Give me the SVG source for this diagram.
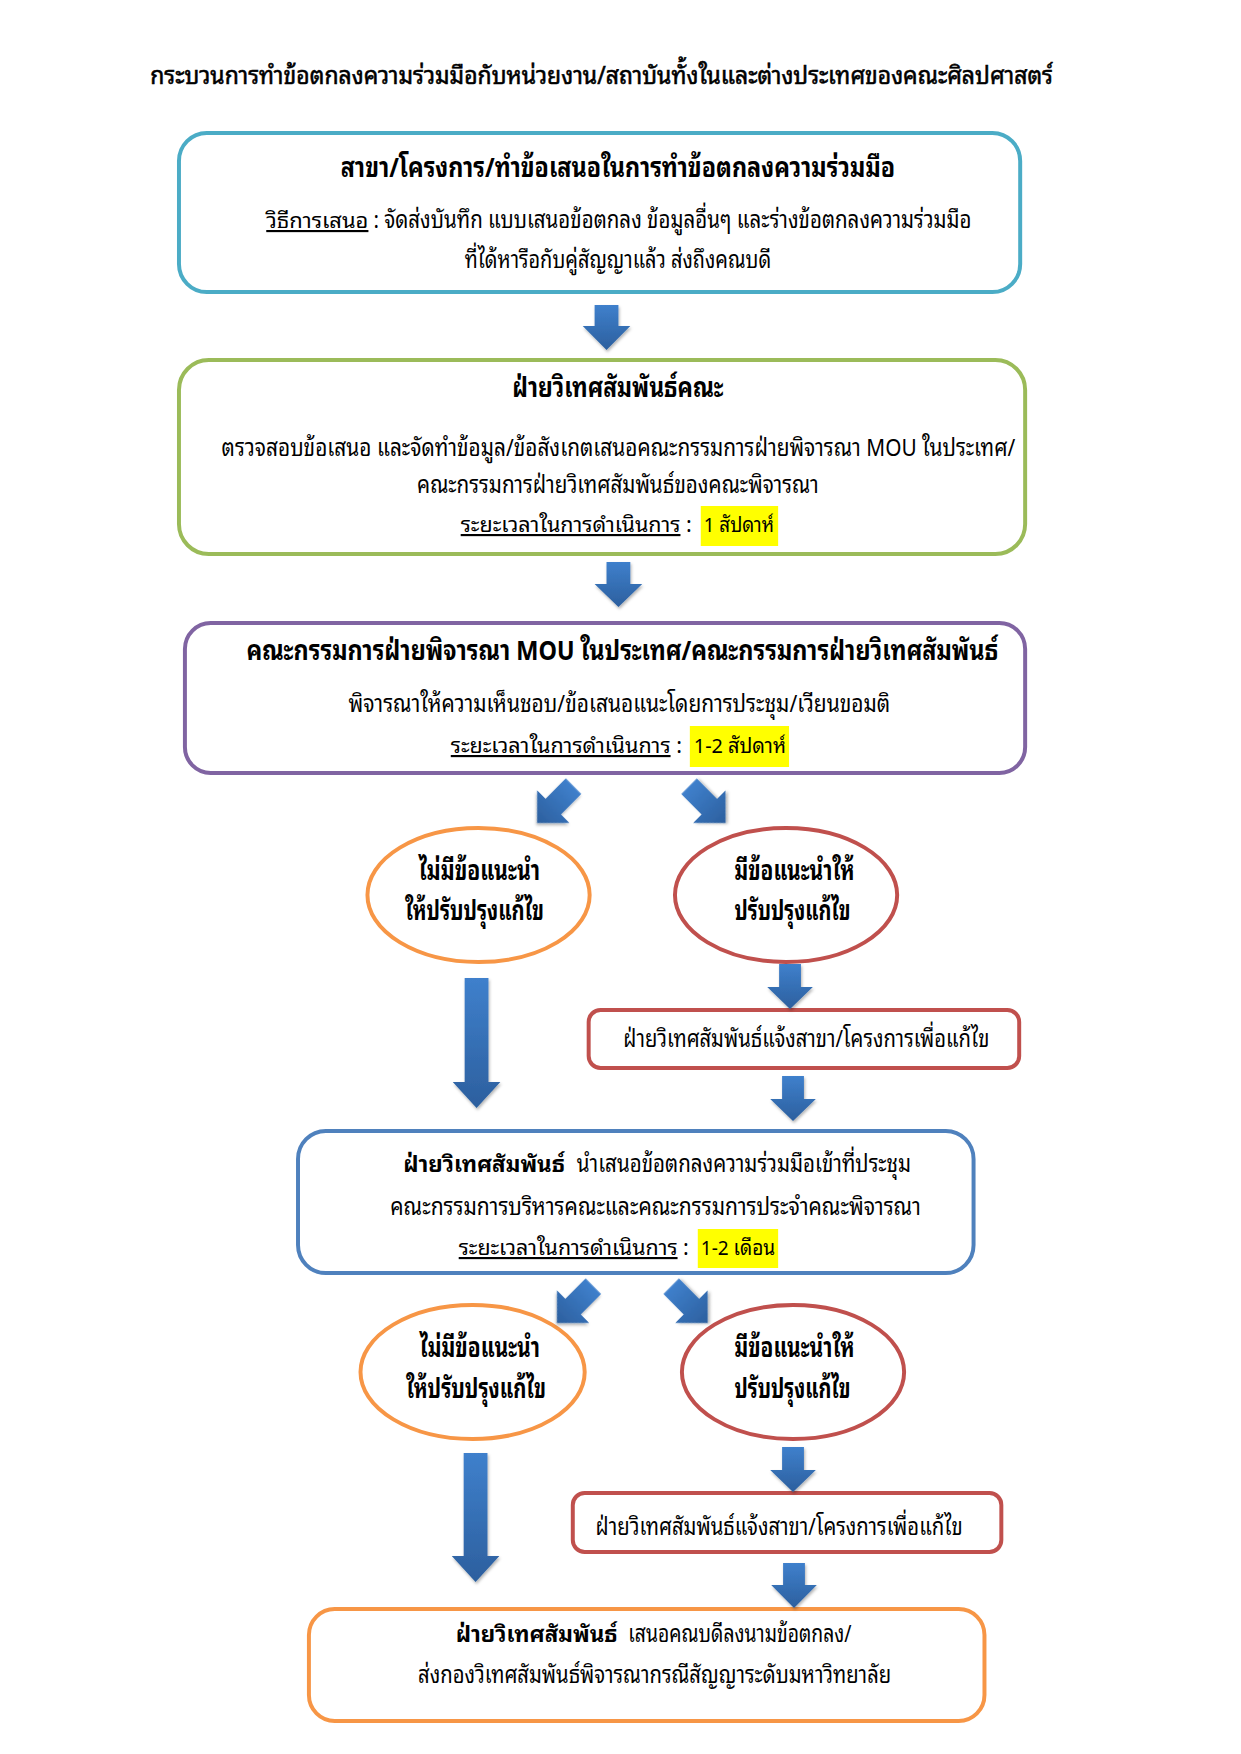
<svg xmlns="http://www.w3.org/2000/svg" width="1241" height="1754" viewBox="0 0 1241 1754">
<style>
text{font-family:"TH Sarabun New","TH SarabunPSK","Laksaman","Noto Sans Thai Looped","Noto Serif Thai","Garuda","Loma","Noto Sans Thai","Noto Sans",sans-serif;fill:#000;font-size:24px}
.b{font-weight:bold;font-size:27px}
.bs{font-weight:bold;font-size:23px}
.t{font-size:25px;stroke:#000;stroke-width:0.6}
.u{text-decoration:underline}
.lb{font-size:21.5px}
.s{font-size:20.5px}
.box{fill:#fff;stroke-width:4}
.hl{fill:#ffff00}
.arr{fill:url(#ag);filter:url(#sh)}
</style>
<defs>
<linearGradient id="ag" x1="0" y1="0" x2="0" y2="1">
<stop offset="0" stop-color="#3f80cc"/>
<stop offset="1" stop-color="#2c5f9e"/>
</linearGradient>
<filter id="sh" x="-30%" y="-30%" width="160%" height="160%">
<feDropShadow dx="1" dy="2" stdDeviation="1.5" flood-color="#000" flood-opacity="0.3"/>
</filter>
<path id="diag" d="M-11,-52 L11,-52 L11,-23 L23,-23 L0,0 L-23,-23 L-11,-23 Z"/>
</defs>
<rect width="1241" height="1754" fill="#fff"/>
<g transform="matrix(0.992 0 0 1 1.4 0)">

<text id="title" class="t" x="150" y="84" textLength="910" lengthAdjust="spacingAndGlyphs">กระบวนการทำข้อตกลงความร่วมมือกับหน่วยงาน/สถาบันทั้งในและต่างประเทศของคณะศิลปศาสตร์</text>

<g id="n1">
<rect class="box" x="179" y="133" width="848" height="159" rx="28" stroke="#4bacc6"/>
<text class="b" x="342" y="177" textLength="559" lengthAdjust="spacingAndGlyphs">สาขา/โครงการ/ทำข้อเสนอในการทำข้อตกลงความร่วมมือ</text>
<text class="u lb" x="267" y="228" textLength="103" lengthAdjust="spacingAndGlyphs">วิธีการเสนอ </text>
<text x="375" y="228" textLength="603" lengthAdjust="spacingAndGlyphs">: จัดส่งบันทึก แบบเสนอข้อตกลง ข้อมูลอื่นๆ และร่างข้อตกลงความร่วมมือ</text>
<text x="467" y="268" textLength="309" lengthAdjust="spacingAndGlyphs">ที่ได้หารือกับคู่สัญญาแล้ว ส่งถึงคณบดี</text>
</g>

<g id="n2">
<rect class="box" x="179" y="360" width="853" height="194" rx="30" stroke="#9bbb59"/>
<text class="b" x="515" y="397" textLength="213" lengthAdjust="spacingAndGlyphs">ฝ่ายวิเทศสัมพันธ์คณะ</text>
<text x="222" y="456" textLength="800" lengthAdjust="spacingAndGlyphs">ตรวจสอบข้อเสนอ และจัดทำข้อมูล/ข้อสังเกตเสนอคณะกรรมการฝ่ายพิจารณา MOU ในประเทศ/</text>
<text x="419" y="493" textLength="405" lengthAdjust="spacingAndGlyphs">คณะกรรมการฝ่ายวิเทศสัมพันธ์ของคณะพิจารณา</text>
<text class="lb" x="463" y="532" textLength="233" lengthAdjust="spacingAndGlyphs"><tspan class="u">ระยะเวลาในการดำเนินการ</tspan> :</text>
<rect class="hl" x="705" y="506" width="78" height="40"/>
<text class="s" x="708" y="532" textLength="71" lengthAdjust="spacingAndGlyphs">1 สัปดาห์</text>
</g>

<g id="n3">
<rect class="box" x="185" y="623" width="847" height="150" rx="26" stroke="#8064a2"/>
<text class="b" x="247" y="660" textLength="758" lengthAdjust="spacingAndGlyphs">คณะกรรมการฝ่ายพิจารณา MOU ในประเทศ/คณะกรรมการฝ่ายวิเทศสัมพันธ์</text>
<text x="350" y="712" textLength="546" lengthAdjust="spacingAndGlyphs">พิจารณาให้ความเห็นชอบ/ข้อเสนอแนะโดยการประชุม/เวียนขอมติ</text>
<text class="lb" x="453" y="753" textLength="233" lengthAdjust="spacingAndGlyphs"><tspan class="u">ระยะเวลาในการดำเนินการ</tspan> :</text>
<rect class="hl" x="694" y="726" width="100" height="41"/>
<text class="s" x="698" y="753" textLength="93" lengthAdjust="spacingAndGlyphs">1-2 สัปดาห์</text>
</g>

<g id="n4">
<ellipse cx="481" cy="895" rx="112" ry="67" fill="#fff" stroke="#f79646" stroke-width="4"/>
<text class="b" x="421" y="880" textLength="122" lengthAdjust="spacingAndGlyphs">ไม่มีข้อแนะนำ</text>
<text class="b" x="407" y="920" textLength="140" lengthAdjust="spacingAndGlyphs">ให้ปรับปรุงแก้ไข</text>
</g>

<g id="n5">
<ellipse cx="791" cy="895" rx="112" ry="67" fill="#fff" stroke="#c0504d" stroke-width="4"/>
<text class="b" x="739" y="880" textLength="121" lengthAdjust="spacingAndGlyphs">มีข้อแนะนำให้</text>
<text class="b" x="739" y="920" textLength="117" lengthAdjust="spacingAndGlyphs">ปรับปรุงแก้ไข</text>
</g>

<g id="n6">
<rect class="box" x="592" y="1010" width="434" height="58" rx="12" stroke="#c0504d"/>
<text x="627" y="1047" textLength="369" lengthAdjust="spacingAndGlyphs">ฝ่ายวิเทศสัมพันธ์แจ้งสาขา/โครงการเพื่อแก้ไข</text>
</g>

<g id="n7">
<rect class="box" x="299" y="1131" width="681" height="142" rx="28" stroke="#4f81bd"/>
<text class="bs" x="405" y="1172" textLength="163" lengthAdjust="spacingAndGlyphs">ฝ่ายวิเทศสัมพันธ์</text>
<text x="580" y="1172" textLength="337" lengthAdjust="spacingAndGlyphs">นำเสนอข้อตกลงความร่วมมือเข้าที่ประชุม</text>
<text x="392" y="1215" textLength="535" lengthAdjust="spacingAndGlyphs">คณะกรรมการบริหารคณะและคณะกรรมการประจำคณะพิจารณา</text>
<text class="lb" x="461" y="1255" textLength="232" lengthAdjust="spacingAndGlyphs"><tspan class="u">ระยะเวลาในการดำเนินการ</tspan> :</text>
<rect class="hl" x="702" y="1229" width="81" height="39"/>
<text class="s" x="705" y="1255" textLength="75" lengthAdjust="spacingAndGlyphs">1-2 เดือน</text>
</g>

<g id="n8">
<ellipse cx="475" cy="1372" rx="113" ry="67" fill="#fff" stroke="#f79646" stroke-width="4"/>
<text class="b" x="422" y="1357" textLength="121" lengthAdjust="spacingAndGlyphs">ไม่มีข้อแนะนำ</text>
<text class="b" x="408" y="1398" textLength="141" lengthAdjust="spacingAndGlyphs">ให้ปรับปรุงแก้ไข</text>
</g>

<g id="n9">
<ellipse cx="798" cy="1372" rx="112" ry="67" fill="#fff" stroke="#c0504d" stroke-width="4"/>
<text class="b" x="739" y="1357" textLength="121" lengthAdjust="spacingAndGlyphs">มีข้อแนะนำให้</text>
<text class="b" x="739" y="1398" textLength="117" lengthAdjust="spacingAndGlyphs">ปรับปรุงแก้ไข</text>
</g>

<g id="n10">
<rect class="box" x="576" y="1493" width="432" height="59" rx="12" stroke="#c0504d"/>
<text x="599" y="1535" textLength="370" lengthAdjust="spacingAndGlyphs">ฝ่ายวิเทศสัมพันธ์แจ้งสาขา/โครงการเพื่อแก้ไข</text>
</g>

<g id="n11">
<rect class="box" x="310" y="1609" width="681" height="112" rx="26" stroke="#f79646"/>
<text class="bs" x="458" y="1642" textLength="163" lengthAdjust="spacingAndGlyphs">ฝ่ายวิเทศสัมพันธ์</text>
<text x="632" y="1642" textLength="225" lengthAdjust="spacingAndGlyphs">เสนอคณบดีลงนามข้อตกลง/</text>
<text x="420" y="1683" textLength="477" lengthAdjust="spacingAndGlyphs">ส่งกองวิเทศสัมพันธ์พิจารณากรณีสัญญาระดับมหาวิทยาลัย</text>
</g>

<g id="connectors">
<path class="arr" d="M598,305 L622,305 L622,326 L634,326 L610,350 L586,326 L598,326 Z"/>
<path class="arr" d="M610,562 L634,562 L634,584 L646,584 L622,607 L598,584 L610,584 Z"/>
<use class="arr" href="#diag" transform="translate(540,823) rotate(45)"/>
<use class="arr" href="#diag" transform="translate(730,823) rotate(-45)"/>
<path class="arr" d="M784,964 L806,964 L806,987 L818,987 L795,1009 L772,987 L784,987 Z"/>
<path class="arr" d="M467,978 L491,978 L491,1082 L503,1082 L479,1108 L455,1082 L467,1082 Z"/>
<path class="arr" d="M787,1076 L809,1076 L809,1099 L821,1099 L798,1121 L775,1099 L787,1099 Z"/>
<use class="arr" href="#diag" transform="translate(560,1323) rotate(45)"/>
<use class="arr" href="#diag" transform="translate(712,1323) rotate(-45)"/>
<path class="arr" d="M466,1453 L490,1453 L490,1556 L502,1556 L478,1582 L454,1556 L466,1556 Z"/>
<path class="arr" d="M787,1447 L809,1447 L809,1470 L821,1470 L798,1492 L775,1470 L787,1470 Z"/>
<path class="arr" d="M788,1563 L810,1563 L810,1585 L822,1585 L799,1608 L776,1585 L788,1585 Z"/>
</g>
</g>
</svg>
